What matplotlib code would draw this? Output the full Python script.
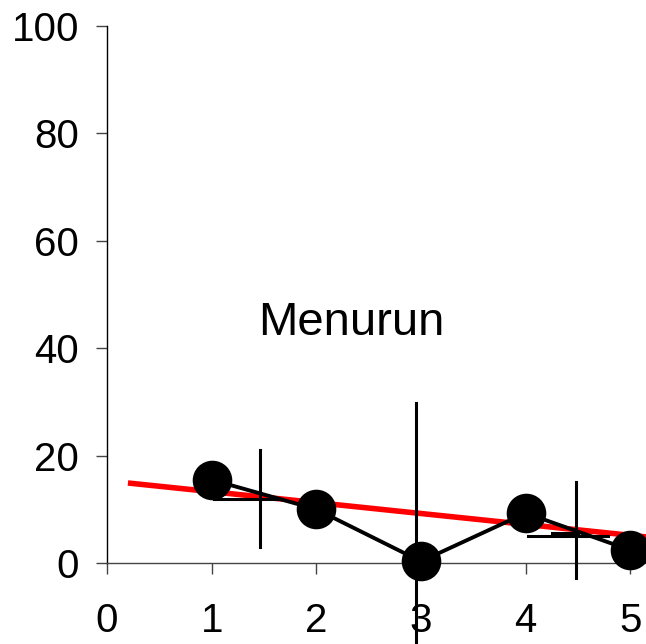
import matplotlib.pyplot as plt

plt.rcParams["font.family"] = ["Liberation Sans", "DejaVu Sans"]

# observed points
x_obs = [1, 2, 3, 4, 5]
y_obs = [15.5, 10.0, 0.3, 9.3, 2.4]

# red trend line end points
trend_x = [0.2, 5.3]
trend_y = [14.9, 4.55]

# vertical range bars
bar_x = [1.46, 2.95, 4.48]
bar_lo = [3.0, -16.0, -2.8]
bar_hi = [21.0, 29.8, 15.1]

# horizontal level marks
level_y = [11.9, 5.0, 5.6]
level_x0 = [1.02, 4.02, 4.25]
level_x1 = [1.67, 4.79, 4.50]

fig = plt.figure(figsize=(6.46, 6.44), dpi=100)
ax = fig.add_axes([107 / 646, 81 / 644, 1 - 107 / 646, 537 / 644])

ax.plot(trend_x, trend_y, color="red", lw=4.0, solid_capstyle="butt", zorder=2)

for x, lo, hi in zip(bar_x, bar_lo, bar_hi):
    ax.plot([x, x], [lo, hi], color="black", lw=2.2, clip_on=False, zorder=3)
for y, x0, x1 in zip(level_y, level_x0, level_x1):
    ax.plot([x0, x1], [y, y], color="black", lw=2.2, clip_on=False, zorder=3)

ax.plot(x_obs, y_obs, color="black", lw=2.8, marker="o", markersize=27.5,
        clip_on=False, zorder=4)

ax.text(2.33, 44.6, "Menurun", fontsize=34, ha="center", va="center")

ax.set_xlim(0, 5.15)
ax.set_ylim(0, 100)
ax.set_xticks([0, 1, 2, 3, 4, 5])
ax.set_yticks([0, 20, 40, 60, 80, 100])
ax.spines["top"].set_visible(False)
ax.spines["right"].set_visible(False)
ax.spines["left"].set_linewidth(1.0)
ax.spines["bottom"].set_linewidth(1.0)
ax.spines["bottom"].set_color("#444444")
ax.tick_params(axis="both", direction="out", length=8, width=1.0,
               labelsize=29, color="#444444")
ax.tick_params(axis="y", pad=12)
ax.tick_params(axis="x", pad=20)

fig.savefig("out.png", dpi=100)
